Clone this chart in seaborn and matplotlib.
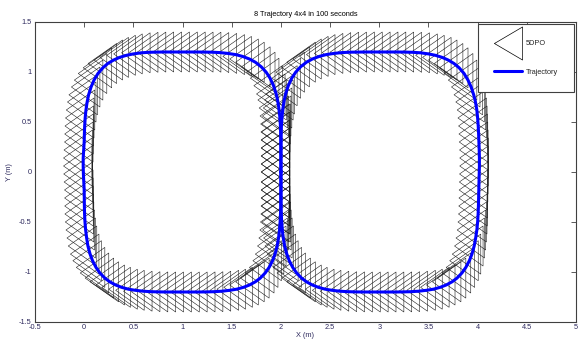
import numpy as np
import pandas as pd
import matplotlib
matplotlib.use("Agg")
import matplotlib.pyplot as plt
import seaborn as sns
from matplotlib.collections import PolyCollection
from matplotlib.lines import Line2D

# ---------------- data ----------------
title = "8 Trajectory 4x4 in 100 seconds"
x_label = "X (m)"
y_label = "Y (m)"
legend_labels = ["5DPO", "Trajectory"]

x_ticks = [-0.5, 0, 0.5, 1, 1.5, 2, 2.5, 3, 3.5, 4, 4.5, 5]
x_tick_labels = ["-0.5", "0", "0.5", "1", "1.5", "2", "2.5", "3", "3.5", "4", "4.5", "5"]
y_ticks = [-1.5, -1, -0.5, 0, 0.5, 1, 1.5]
y_tick_labels = ["-1.5", "-1", "-0.5", "0", "0.5", "1", "1.5"]

# robot positions (m) along the left loop
left_x = [2.000, 2.000, 2.000, 2.000, 1.999, 1.997, 1.994, 1.988, 1.979, 1.966,
          1.952, 1.925, 1.890, 1.850, 1.800, 1.740, 1.680, 1.610, 1.540, 1.460,
          1.380, 1.300, 1.220, 1.140, 1.060,
          0.980, 0.900, 0.820, 0.740, 0.660, 0.580, 0.500, 0.430, 0.360, 0.300,
          0.240, 0.190, 0.140, 0.100, 0.070, 0.045, 0.030, 0.018, 0.010, 0.005,
          0.002, 0.000, -0.005, -0.010, -0.010,
          -0.008, -0.004, 0.000, 0.001, 0.002, 0.004, 0.008, 0.015, 0.025, 0.038,
          0.060, 0.085, 0.120, 0.160, 0.210, 0.260, 0.320, 0.380, 0.450, 0.520,
          0.600, 0.680, 0.760, 0.840, 0.920,
          1.000, 1.080, 1.160, 1.240, 1.320, 1.400, 1.480, 1.550, 1.620, 1.680,
          1.740, 1.790, 1.840, 1.880, 1.915, 1.940, 1.962, 1.976, 1.986, 1.992,
          1.996, 1.998, 1.999, 2.000, 2.000]

# robot positions (m) along the right loop
right_x = [2.000, 2.000, 2.000, 2.000, 2.001, 2.003, 2.006, 2.012, 2.021, 2.034,
           2.048, 2.075, 2.110, 2.150, 2.200, 2.260, 2.320, 2.390, 2.460, 2.540,
           2.620, 2.700, 2.780, 2.860, 2.940,
           3.020, 3.100, 3.180, 3.260, 3.340, 3.420, 3.500, 3.570, 3.640, 3.700,
           3.760, 3.812, 3.862, 3.902, 3.934, 3.960, 3.978, 3.992, 4.000, 4.006,
           4.010, 4.013, 4.016, 4.018, 4.018,
           4.016, 4.014, 4.012, 4.010, 4.008, 4.005, 4.000, 3.992, 3.980, 3.965,
           3.942, 3.916, 3.880, 3.840, 3.790, 3.740, 3.680, 3.620, 3.550, 3.480,
           3.400, 3.320, 3.240, 3.160, 3.080,
           3.000, 2.920, 2.840, 2.760, 2.680, 2.600, 2.520, 2.450, 2.380, 2.320,
           2.260, 2.210, 2.160, 2.120, 2.085, 2.060, 2.038, 2.024, 2.014, 2.008,
           2.004, 2.002, 2.001, 2.000, 2.000]

# y positions (m), same sequence for both loops
path_y = [0.000, 0.080, 0.160, 0.240, 0.320, 0.400, 0.480, 0.560, 0.640, 0.720,
          0.780, 0.863, 0.938, 0.998, 1.052, 1.098, 1.130, 1.156, 1.174, 1.186,
          1.194, 1.198, 1.199, 1.200, 1.200,
          1.200, 1.200, 1.200, 1.199, 1.197, 1.192, 1.181, 1.167, 1.146, 1.120,
          1.085, 1.042, 0.985, 0.919, 0.850, 0.772, 0.700, 0.620, 0.540, 0.460,
          0.380, 0.300, 0.220, 0.140, 0.060,
          -0.020, -0.100, -0.180, -0.260, -0.340, -0.420, -0.500, -0.580, -0.660, -0.740,
          -0.821, -0.887, -0.954, -1.010, -1.061, -1.098, -1.130, -1.153, -1.172, -1.183,
          -1.192, -1.197, -1.199, -1.200, -1.200,
          -1.200, -1.200, -1.200, -1.199, -1.197, -1.192, -1.183, -1.172, -1.153, -1.130,
          -1.098, -1.061, -1.010, -0.954, -0.887, -0.821, -0.740, -0.660, -0.580, -0.500,
          -0.420, -0.340, -0.260, -0.180, -0.100]

# robot outline (m), relative to the robot position: apex left, base right
robot_dx = [-0.20, 0.09, 0.09]
robot_dy = [0.00, -0.20, 0.20]

# ---------------- styling ----------------
sns.set_theme(style="white")
plt.rcParams["font.family"] = ["Liberation Sans", "DejaVu Sans"]
FS = 5.3
LABEL_COLOR = "#2e2a5e"
AXIS_COLOR = "#404040"

fig = plt.figure(figsize=(5.8, 3.4), dpi=100)
ax = fig.add_axes([35 / 580, 18 / 340, 541 / 580, 300 / 340])

# robot triangles
for xs in (left_x, right_x):
    px = np.asarray(xs)[:, None]
    py = np.asarray(path_y)[:, None]
    verts = np.stack([px + np.asarray(robot_dx)[None, :],
                      py + np.asarray(robot_dy)[None, :]], axis=-1)
    pc = PolyCollection(verts, closed=True, facecolors="none",
                        edgecolors="#1a1a1a", linewidths=0.4, zorder=2)
    ax.add_collection(pc)

# trajectory
for xs in (left_x, right_x):
    df = pd.DataFrame({"x": list(xs) + [xs[0]], "y": list(path_y) + [path_y[0]]})
    sns.lineplot(data=df, x="x", y="y", sort=False, estimator=None,
                 color="#0000ff", linewidth=2.2, ax=ax, zorder=3)

ax.set_xlim(-0.5, 5)
ax.set_ylim(-1.5, 1.5)
ax.set_xticks(x_ticks)
ax.set_xticklabels(x_tick_labels)
ax.set_yticks(y_ticks)
ax.set_yticklabels(y_tick_labels)
ax.tick_params(axis="both", direction="in", top=True, right=True,
               length=3.5, width=0.6, color=AXIS_COLOR,
               labelcolor=LABEL_COLOR, labelsize=FS)
ax.tick_params(axis="x", pad=1.5)
ax.tick_params(axis="y", pad=2.5)
for sp in ax.spines.values():
    sp.set_visible(True)
    sp.set_color(AXIS_COLOR)
    sp.set_linewidth(0.8)

ax.set_title(title, fontsize=FS, pad=4, color="black")
ax.set_xlabel(x_label, fontsize=FS, labelpad=1, color=LABEL_COLOR)
ax.set_ylabel(y_label, fontsize=FS, labelpad=4.5, color=LABEL_COLOR)

# legend
tri_marker = [(-0.85, 0.0), (0.85, -1.0), (0.85, 1.0), (-0.85, 0.0)]
handles = [
    Line2D([], [], linestyle="none", marker=tri_marker, markersize=23.8,
           markerfacecolor="none", markeredgecolor="black", markeredgewidth=0.5),
    Line2D([], [], color="#0000ff", linewidth=2.2),
]
leg = ax.legend(handles, legend_labels, loc="upper right", fontsize=FS,
                frameon=True, fancybox=False, framealpha=1,
                edgecolor=AXIS_COLOR, borderaxespad=0.25,
                handlelength=3.8, handleheight=0.7, handletextpad=0.45,
                labelspacing=2.95, borderpad=2.2)
leg.get_frame().set_linewidth(0.8)

fig.savefig("out.png", dpi=100)
